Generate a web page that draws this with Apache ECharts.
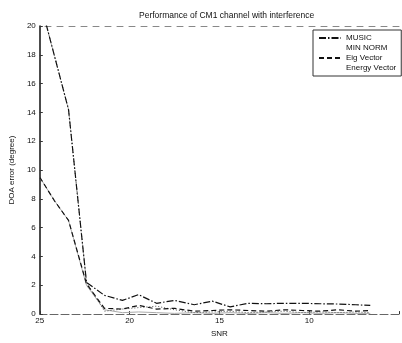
<!DOCTYPE html>
<html>
<head>
<meta charset="utf-8">
<script src="https://cdn.jsdelivr.net/npm/echarts@6/dist/echarts.min.js"></script>
<style>
  html, body { margin: 0; padding: 0; background: #fff; }
  #main { width: 402px; height: 343px; }
</style>
</head>
<body>
<div id="main"></div>
<script>
// SNR positions (x axis runs 25 -> 5)
var snr = [25, 24.2, 23.4, 22.4, 21.4, 20.4, 19.5, 18.5, 17.5, 16.4, 15.4, 14.4, 13.4, 12.4, 11.4, 10.4, 9.4, 8.4, 7.4, 6.6]
var music = [21.8, 18.0, 14.2, 2.2, 1.3, 0.95, 1.35, 0.75, 0.95, 0.65, 0.9, 0.5, 0.75, 0.72, 0.75, 0.75, 0.72, 0.7, 0.65, 0.6]
var minNorm = [21.8, 18.0, 14.2, 2.2, 0.2, 0.35, 0.45, 0.55, 0.3, 0.1, 0.15, 0.2, 0.1, 0.15, 0.2, 0.1, 0.15, 0.1, 0.15, 0.1]
var eigVector = [9.5, 7.9, 6.5, 2.1, 0.4, 0.35, 0.6, 0.35, 0.4, 0.2, 0.25, 0.3, 0.25, 0.2, 0.3, 0.25, 0.2, 0.3, 0.2, 0.25]
var energyVector = [9.5, 7.9, 6.5, 2.0, 0.3, 0.1, 0.15, 0.1, 0.05, 0.1, 0.05, 0.1, 0.05, 0.1, 0.05, 0.1, 0.05, 0.1, 0.05, 0.05]
var seriesNames = ['MUSIC', 'MIN NORM', 'Eig Vector', 'Energy Vector']
var xTicks = [25, 20, 15, 10]

function pairs(vals) {
  return vals.map(function (v, i) { return [snr[i], v] })
}

var font = 'Liberation Sans, Arial, sans-serif'
var myChart = echarts.init(document.getElementById('main'))

var option = {
  backgroundColor: '#fff',
  animation: false,
  title: {
    text: 'Performance of CM1 channel with interference',
    left: 134,
    top: 6,
    textStyle: { fontSize: 8.5, fontWeight: 'normal', color: '#111', fontFamily: font }
  },
  legend: {
    orient: 'vertical',
    left: 313,
    top: 30,
    padding: [4, 5, 4, 5],
    itemWidth: 22,
    itemHeight: 6,
    itemGap: 2,
    borderColor: '#333',
    borderWidth: 1,
    itemStyle: { opacity: 0 },
    textStyle: { fontSize: 8, color: '#111', fontFamily: font },
    data: [
      { name: seriesNames[0] },
      { name: seriesNames[1], lineStyle: { opacity: 0 } },
      { name: seriesNames[2] },
      { name: seriesNames[3], lineStyle: { opacity: 0 } }
    ]
  },
  grid: {
    left: 34,
    right: -3,
    top: 26,
    bottom: 20
  },
  xAxis: [
    {
      type: 'value',
      min: 5,
      max: 25,
      interval: 5,
      inverse: true,
      name: 'SNR',
      nameLocation: 'middle',
      nameGap: 12,
      nameTextStyle: { fontSize: 8, color: '#111', fontFamily: font },
      axisLine: { lineStyle: { color: '#666', width: 1, type: [8, 3] } },
      axisTick: { inside: true, length: 3, lineStyle: { color: '#333' } },
      axisLabel: {
        fontSize: 8,
        color: '#111',
        margin: 3,
        fontFamily: font,
        formatter: function (v) { return xTicks.indexOf(v) >= 0 ? String(v) : '' }
      },
      splitLine: { show: false }
    },
    {
      type: 'value',
      position: 'top',
      min: 5,
      max: 25,
      inverse: true,
      axisLine: { show: true, lineStyle: { color: '#888', type: [6, 6], width: 1 } },
      axisTick: { show: false },
      axisLabel: { show: false },
      splitLine: { show: false }
    }
  ],
  yAxis: {
    type: 'value',
    min: 0,
    max: 20,
    interval: 2,
    name: 'DOA error (degree)',
    nameLocation: 'middle',
    nameGap: 18,
    nameTextStyle: { fontSize: 8, color: '#111', fontFamily: font },
    axisLine: { show: true, lineStyle: { color: '#111', width: 1.5 } },
    axisTick: { show: true, inside: true, length: 3, lineStyle: { color: '#333' } },
    axisLabel: { fontSize: 8, color: '#111', margin: 4, fontFamily: font },
    splitLine: { show: false }
  },
  series: [
    {
      name: seriesNames[0],
      type: 'line',
      symbol: 'none',
      z: 4,
      data: pairs(music),
      lineStyle: { color: '#111', width: 1.2, type: [7, 2, 1.5, 2] },
      itemStyle: { color: '#111' }
    },
    {
      name: seriesNames[1],
      type: 'line',
      symbol: 'none',
      z: 3,
      data: pairs(minNorm),
      lineStyle: { color: '#555', width: 1, type: [1, 2] },
      itemStyle: { color: '#555' }
    },
    {
      name: seriesNames[2],
      type: 'line',
      symbol: 'none',
      z: 4,
      data: pairs(eigVector),
      lineStyle: { color: '#111', width: 1.2, type: [5, 3] },
      itemStyle: { color: '#111' }
    },
    {
      name: seriesNames[3],
      type: 'line',
      symbol: 'none',
      z: 2,
      data: pairs(energyVector),
      lineStyle: { color: '#aaa', width: 1 },
      itemStyle: { color: '#aaa' }
    }
  ]
}

myChart.setOption(option)
</script>
</body>
</html>
